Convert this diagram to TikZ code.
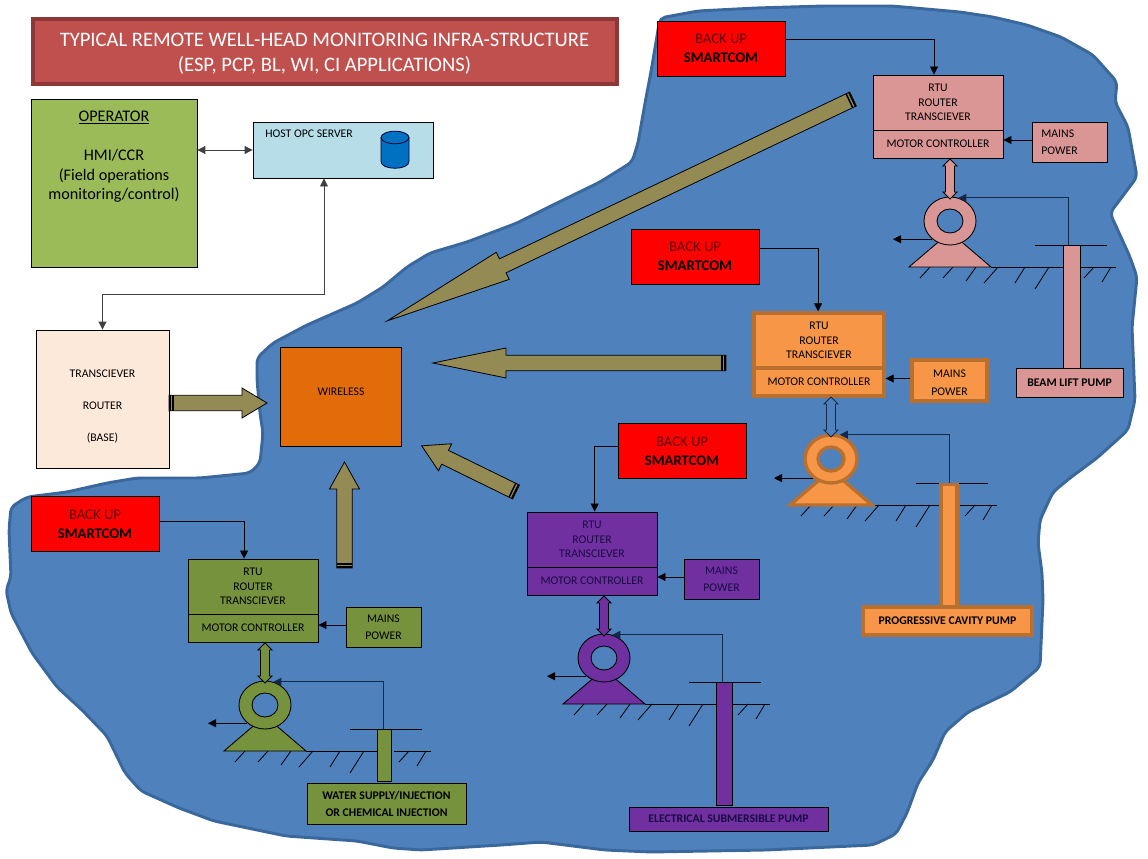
\documentclass[tikz,border=0pt]{standalone}
\usepackage{fontspec}
\setmainfont{Carlito}
\usetikzlibrary{arrows.meta,shapes.geometric}
\definecolor{water_blue}{HTML}{4F81BD}
\definecolor{water_edge}{HTML}{3A689C}
\definecolor{title_red}{HTML}{C0504D}
\definecolor{title_edge}{HTML}{8C3836}
\definecolor{olive_arrow}{HTML}{948A54}
\definecolor{pcp_orange}{HTML}{F79646}
\definecolor{pcp_edge}{HTML}{B9702F}
\definecolor{feed_navy}{HTML}{12294A}
\definecolor{beam_pink}{HTML}{D99694}
\definecolor{esp_purple}{HTML}{7030A0}
\definecolor{esp_ink}{HTML}{1A0A45}
\definecolor{water_green}{HTML}{76923C}
\definecolor{oper_green}{HTML}{9BBB59}
\definecolor{host_blue}{HTML}{B7DDE8}
\definecolor{db_blue}{HTML}{0070C0}
\definecolor{base_cream}{HTML}{FDE9D9}
\definecolor{wireless_orange}{HTML}{E36C0A}
\definecolor{backup_ink}{HTML}{600000}
\begin{document}
\begin{tikzpicture}[
  x=0.75pt, y=-0.75pt,
  box_size/.style 2 args={minimum width=#1*0.75pt, minimum height=#2*0.75pt, inner sep=0pt},
  small_text/.style={font=\fontsize{8.8}{10.9}\selectfont, align=center},
  beam_unit/.style={draw=black, line width=0.65pt, fill=beam_pink, small_text},
  pcp_unit/.style={draw=pcp_edge, line width=2.5pt, fill=pcp_orange, small_text},
  pcp_flow/.style={draw=feed_navy, line width=0.7pt, fill=water_blue},
  esp_unit/.style={draw=black, line width=0.65pt, fill=esp_purple, text=esp_ink, small_text},
  water_unit/.style={draw=black, line width=0.65pt, fill=water_green, small_text},
  pump_label/.style={font=\fontsize{8.8}{12.7}\selectfont\bfseries},
  backup_box/.style={draw=black, line width=0.65pt, fill=red, align=center, box_size={128}{55},
    font=\fontsize{11}{14.2}\selectfont},
  link/.style={-{Triangle[length=6pt,width=6pt]}, draw=black, line width=0.6pt},
  two_way/.style={{Triangle[length=6pt,width=6pt]}-{Triangle[length=6pt,width=6pt]}, draw=black!75, line width=0.7pt},
  feed_line/.style={-{Triangle[length=6pt,width=6pt]}, draw=feed_navy, line width=0.7pt},
  thin_line/.style={draw=black, line width=0.6pt},
  big_arrow/.style={draw=black, line width=0.6pt, fill=olive_arrow},
  tail_bar/.style={draw=black, line width=1.1pt},
  db_part/.style={draw=black!80!blue, line width=0.6pt, fill=db_blue}
]
\useasboundingbox (0,0) rectangle (1148,859);

% Field outline
\draw[draw=water_edge, line width=2.2pt, fill=water_blue, rounded corners=4pt]
  (660,18) -- (698,11) -- (756,8) -- (824,6) -- (892,6) -- (960,12) -- (993,17) -- (1027,25)
  -- (1061,37) -- (1093,55) -- (1117,82) -- (1115,102) -- (1128,127) -- (1137,177) -- (1110,213)
  -- (1130,257) -- (1137,277) -- (1132,327) -- (1135,400) -- (1128,430) -- (1097,458) -- (1070,478)
  -- (1053,492) -- (1040,520) -- (1038,543) -- (1042,573) -- (1043,600) -- (1040,667) -- (1010,692)
  -- (968,712) -- (945,732) -- (933,760) -- (918,783) -- (907,813) -- (896,834) -- (873,845)
  -- (766,850) -- (651,852) -- (605,850) -- (541,842) -- (501,845) -- (421,850) -- (393,848)
  -- (357,841) -- (286,836) -- (214,821) -- (179,808) -- (141,791) -- (125,773) -- (107,736)
  -- (82,710) -- (57,687) -- (32,653) -- (11,613) -- (6,590) -- (11,577) -- (9,530) -- (11,507)
  -- (27,497) -- (67,492) -- (107,483) -- (137,478) -- (200,478) -- (250,473) -- (260,463)
  -- (263,433) -- (260,413) -- (257,380) -- (257,358) -- (273,343) -- (307,325) -- (357,303)
  -- (383,287) -- (407,267) -- (430,253) -- (467,242) -- (517,223) -- (557,203) -- (600,182)
  -- (632,162) -- (638,143) -- (645,103) -- (650,77) -- (653,60) -- cycle;

% Title, operator side
\node[draw=title_edge, line width=3pt, fill=title_red, text=white, align=center, box_size={584}{65},
  font=\fontsize{15.45}{18.7}\selectfont] (title) at (324.5,52)
  {\rule{0pt}{13pt}TYPICAL REMOTE WELL-HEAD MONITORING INFRA-STRUCTURE\\(ESP, PCP, BL, WI, CI APPLICATIONS)};
\node[draw=black, line width=0.65pt, fill=oper_green, align=center, box_size={166}{168},
  font=\fontsize{12.15}{14.6}\selectfont] (operator) at (114,183)
  {\underline{OPERATOR}\\[14.6pt]HMI/CCR\\(Field operations\\monitoring/control)\\[22.5pt]\strut};
\node[draw=black, line width=0.65pt, fill=host_blue, box_size={180}{56}] (host) at (343,150) {};
\node[font=\fontsize{8.8}{10}\selectfont, anchor=west, inner sep=0pt] (hosttext) at (265,134) {HOST OPC SERVER};
% Database drum
\draw[db_part] (381,137.5) -- (381,161.5) .. controls (381,170.5) and (409,170.5) .. (409,161.5) -- (409,137.5) -- cycle;
\draw[db_part] (395,137.5) ellipse [x radius=14, y radius=6.3];
\node[draw=black, line width=0.65pt, fill=base_cream, small_text, box_size={133}{138}] (base) at (102.5,399)
  {\rule{0pt}{17.3pt}TRANSCIEVER\\[12.9pt]ROUTER\\[12.9pt](BASE)};
\node[draw=black, line width=0.65pt, fill=wireless_orange, small_text, text depth=7pt, box_size={121}{99}] (wireless) at (341,396.5)
  {WIRELESS};

\coordinate (hostin) at (324,178.5);
\coordinate (busbend) at (324,294);
\draw[two_way] (operator.east |- host.west) -- (host.west);
\draw[two_way] (base.north) |- (busbend) -- (hostin);

% Backhaul arrows into wireless
\foreach \x/\y/\a/\l/\h in {169/403/0/98/25, 726/363/180/293/73, 516/492/153.9/105/26,
                            344.5/568/90/106/27, 853/99/205.47/516/128} {
  \begin{scope}[shift={(\x,\y)}, rotate=\a]
    \draw[big_arrow] (0,-7.7) -- (\l-\h,-7.7) -- (\l-\h,-15) -- (\l,0) -- (\l-\h,15) -- (\l-\h,7.7) -- (0,7.7) -- cycle;
    \draw[tail_bar] (1,-7.7) -- (1,7.7) (4,-7.7) -- (4,7.7);
  \end{scope}
}

% Well stations
\foreach \nm/\cx/\cy/\tx/\tw/\th/\sty/\flow in {
  beam/950/221/121.5/17/123/beam_unit/beam_unit,
  pcp/831/459/118/16/124/pcp_unit/pcp_flow,
  esp/604/658/120/16/123/esp_unit/esp_unit,
  water/265/705/119/14/52/water_unit/water_unit} {
  \begin{scope}[shift={(\cx,\cy)}]
    \coordinate (well\nm) at (118,24);
    \coordinate (out\nm) at (-57,18);
    % ground and well head
    \draw[thin_line] (41,46) -- (113,46) (129,46) -- (166,46) (85,24) -- (157,24);
    \foreach \a/\b/\h in {-20/-30/11, 3/-7/11, 26/16/14, 48/34/16, 75/65/16, 99/85/22, 144/134/11, 161/152/15} {
      \draw[thin_line] (\a,46) -- (\b,46+\h);
    }
    % pump
    \draw[\sty] (-41,46) -- (0,11) -- (41,46) -- cycle;
    \node[\sty, ellipse, box_size={52}{48}] (ring\nm) at (0,0) {};
    \node[\sty, ellipse, fill=water_blue, box_size={26}{24}] (eye\nm) at (0,0) {};
    \node[\sty, box_size={\tw}{\th}, anchor=north] (tube\nm) at (\tx,24) {};
    % controller
    \node[\sty, box_size={130}{55}] (rtu\nm) at (-12,-118.5) {RTU\\ROUTER\\TRANSCIEVER};
    \node[\sty, box_size={130}{28}] (motor\nm) at (-12,-77) {MOTOR CONTROLLER};
    \draw[\flow] (0,-62) -- (7,-55) -- (4.5,-55) -- (4.5,-29) -- (7,-29) -- (0,-22) -- (-7,-29)
      -- (-4.5,-29) -- (-4.5,-55) -- (-7,-55) -- cycle;
    \draw[feed_line] (well\nm) |- (ring\nm.70);
    \draw[link] (ring\nm.226) -- (out\nm |- ring\nm.226);
  \end{scope}
}

% Mains
\node[beam_unit, box_size={75}{40}] (mainsbeam) at (1069.5,142) {\hspace*{-15pt}\begin{tabular}{@{}l@{}}\rule{0pt}{9pt}MAINS\\[2pt]POWER\end{tabular}};
\node[pcp_unit, box_size={75}{41}] (mainspcp) at (949.5,380.5) {\rule{0pt}{9pt}MAINS\\[2pt]POWER};
\node[esp_unit, box_size={75}{40}] (mainsesp) at (721.5,579) {MAINS\\[2pt]POWER};
\node[water_unit, box_size={75}{40}] (mainswater) at (383.5,627) {MAINS\\[2pt]POWER};
\foreach \nm in {beam,pcp,esp,water} {
  \draw[link] ([yshift=1.5pt]mains\nm.west) -- ([yshift=1.5pt]mains\nm.west -| motor\nm.east);
}

% Pump names
\node[beam_unit, pump_label, box_size={107}{29}] (namebeam) at (1069.5,382.5) {BEAM LIFT PUMP};
\node[pcp_unit, pump_label, box_size={169}{28}] (namepcp) at (947.5,621) {PROGRESSIVE CAVITY PUMP};
\node[esp_unit, pump_label, box_size={199}{24}] (nameesp) at (728.5,819) {ELECTRICAL SUBMERSIBLE PUMP};
\node[water_unit, pump_label, box_size={159}{41}] (namewater) at (386.5,803.5) {WATER SUPPLY/INJECTION\\OR CHEMICAL INJECTION};

% Back up units
\node[backup_box] (backupbeam) at (721,48.5) {{\color{backup_ink}BACK UP}\\\textbf{SMARTCOM}};
\node[backup_box] (backuppcp) at (695,256.5) {{\color{backup_ink}BACK UP}\\\textbf{SMARTCOM}};
\node[backup_box] (backupesp) at (682,451) {{\color{backup_ink}BACK UP}\\\textbf{SMARTCOM}};
\node[backup_box] (backupwater) at (95,524) {{\color{backup_ink}BACK UP}\\\textbf{SMARTCOM}};
\draw[link] ([yshift=7pt]backupbeam.east) -| ([xshift=-3pt]rtubeam.north);
\draw[link] ([yshift=6.4pt]backuppcp.east) -| ([xshift=-0.7pt]rtupcp.north);
\draw[link] ([yshift=3.7pt]backupesp.west) -| ([xshift=2pt]rtuesp.north);
\draw[link] ([yshift=2.2pt]backupwater.east) -| ([xshift=-6.7pt]rtuwater.north);

\end{tikzpicture}
\end{document}
